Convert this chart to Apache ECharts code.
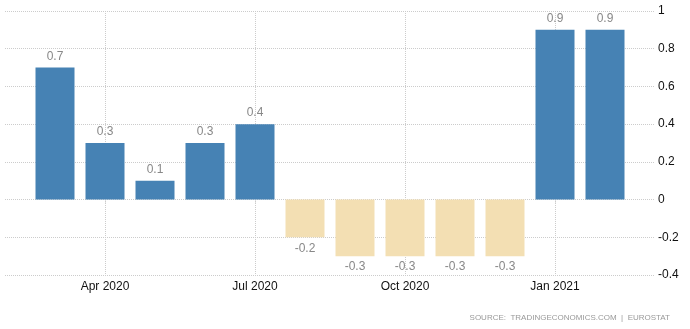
<!DOCTYPE html>
<html><head><meta charset="utf-8">
<script src="https://cdn.jsdelivr.net/npm/echarts@6/dist/echarts.min.js"></script>
<style>html,body{margin:0;padding:0;background:#fff}#c{width:690px;height:329px}</style>
</head><body><div id="c"></div>
<script>
const months = ['Mar 2020','Apr 2020','May 2020','Jun 2020','Jul 2020','Aug 2020','Sep 2020','Oct 2020','Nov 2020','Dec 2020','Jan 2021','Feb 2021'];
const values = [0.7, 0.3, 0.1, 0.3, 0.4, -0.2, -0.3, -0.3, -0.3, -0.3, 0.9, 0.9];
const shownLabels = ['Apr 2020','Jul 2020','Oct 2020','Jan 2021'];
const yTicks = [-0.4, -0.2, 0, 0.2, 0.4, 0.6, 0.8, 1];

const cats = [''].concat(months, ['']);
const vals = [null].concat(values, [null]);
const isShown = (i) => shownLabels.indexOf(cats[i]) >= 0;

const chart = echarts.init(document.getElementById('c'), null, {renderer:'canvas'});
chart.setOption({
  animation:false,
  grid:{left:5, right:35, top:11, bottom:54, containLabel:false},
  xAxis:{
    type:'category', data:cats, boundaryGap:false,
    axisLine:{show:false},
    axisTick:{show:true, length:3, interval:(i)=>isShown(i), lineStyle:{color:'#ccc', type:'dotted'}},
    axisLabel:{interval:(i)=>isShown(i), color:'#111', fontSize:12, fontFamily:'Liberation Sans, Arial', margin:6},
    splitLine:{show:true, interval:(i)=>isShown(i), lineStyle:{color:'#ccc', type:'dotted', width:1}}
  },
  yAxis:{
    type:'value', position:'right', min:yTicks[0], max:yTicks[yTicks.length-1], interval:0.2,
    axisLine:{show:false}, axisTick:{show:false},
    axisLabel:{color:'#111', fontSize:12, fontFamily:'Liberation Sans, Arial', margin:3,
      formatter:(v)=>String(Math.round(v*10)/10)},
    splitLine:{show:true, lineStyle:{color:'#ccc', type:'dotted', width:1}}
  },
  series:[{
    type:'bar', data:vals.map(v => v===null ? null : {
      value:v,
      itemStyle:{color: v>=0 ? '#4682b4' : '#f3dfb3'},
      label:{position: v>=0 ? 'top' : 'bottom'}
    }),
    barWidth:39,
    label:{show:true, color:'#888', fontSize:12, fontFamily:'Liberation Sans, Arial', distance:5,
      formatter:(p)=>String(p.value)}
  }],
  graphic:[{
    type:'text', right:20, bottom:7,
    style:{text:'SOURCE:  TRADINGECONOMICS.COM  |  EUROSTAT', fill:'#999', font:'8px "Liberation Sans", Arial'}
  }]
});
</script></body></html>
